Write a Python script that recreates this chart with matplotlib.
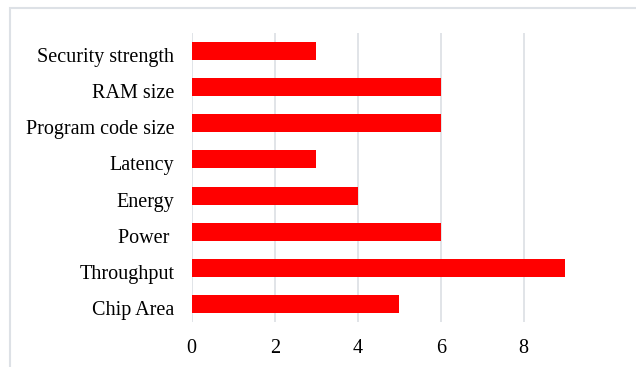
import matplotlib
matplotlib.use("Agg")
import matplotlib.pyplot as plt
from matplotlib.patches import Rectangle
from matplotlib.transforms import ScaledTranslation

categories = ["Chip Area", "Throughput", "Power ", "Energy", "Latency",
              "Program code size", "RAM size", "Security strength"]
values = [5, 9, 6, 4, 3, 6, 6, 3]
xticks = [0, 2, 4, 6, 8]

plt.rcParams["font.family"] = ["Liberation Serif", "DejaVu Serif"]

fig = plt.figure(figsize=(6.36, 3.67), dpi=100)
ax = fig.add_axes([191.7 / 636, 1 - 322 / 367, 415 / 636, 289 / 367])

ax.barh(range(len(categories)), values, height=0.5, color="#FF0000", zorder=3)
ax.set_ylim(-0.5, len(categories) - 0.5)
ax.set_xlim(0, 10)
ax.set_yticks(range(len(categories)))
ax.set_yticklabels(categories, fontsize=14.5)
ax.set_xticks(xticks)
ax.set_xticklabels([str(t) for t in xticks], fontsize=14.5)
ax.tick_params(axis="y", length=0, pad=12.5)
ax.tick_params(axis="x", length=0, pad=12)
# category labels sit a little below the bar centres
shift = ScaledTranslation(0, -4 / 100, fig.dpi_scale_trans)
for lbl in ax.get_yticklabels():
    lbl.set_transform(lbl.get_transform() + shift)
for t in xticks:
    ax.axvline(t, color="#DEE2E6", lw=1.3, zorder=1)
for s in ax.spines.values():
    s.set_visible(False)

# outer chart frame, open on the right and bottom
fig.patches.append(Rectangle((10 / 636, -0.1), 1.2, 1.1 - 8 / 367,
                             transform=fig.transFigure, fill=False,
                             edgecolor="#DDE1E6", lw=1.5))

fig.savefig("out.png", dpi=100)
